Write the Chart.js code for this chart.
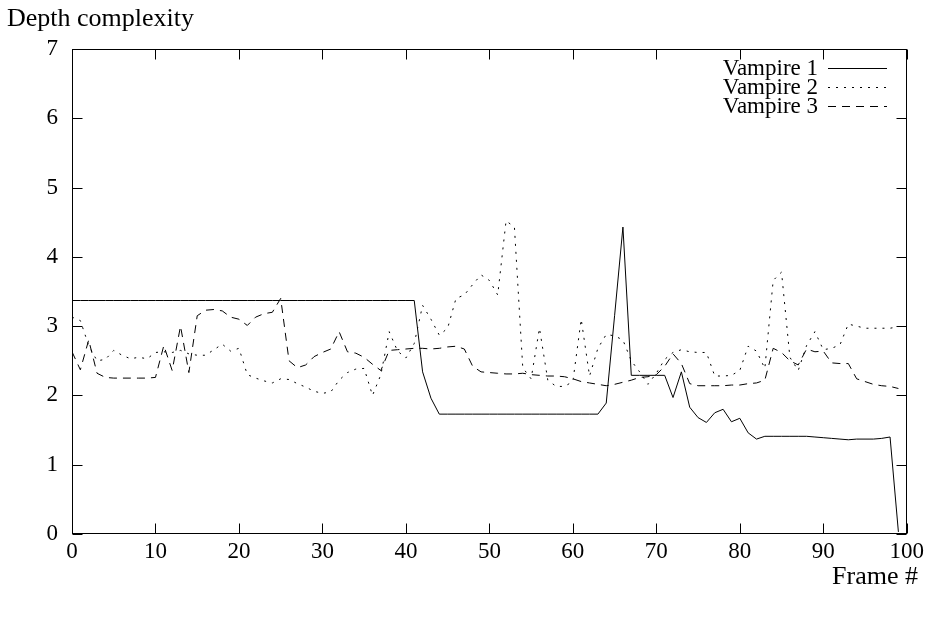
<!DOCTYPE html>
<html><head><meta charset="utf-8">
<script src="https://cdn.jsdelivr.net/npm/chart.js@4"></script>
<style>html,body{margin:0;padding:0;background:#fff}</style>
</head><body>
<canvas id="c" width="928" height="619"></canvas>
<script>
const frames = [0,1,2,3,4,5,6,7,8,9,10,11,12,13,14,15,16,17,18,19,20,21,22,23,24,25,26,27,28,29,30,31,32,33,34,35,36,37,38,39,40,41,42,43,44,45,46,47,48,49,50,51,52,53,54,55,56,57,58,59,60,61,62,63,64,65,66,67,68,69,70,71,72,73,74,75,76,77,78,79,80,81,82,83,84,85,86,87,88,89,90,91,92,93,94,95,96,97,98,99];

const vampire1 = [3.37,3.37,3.37,3.37,3.37,3.37,3.37,3.37,3.37,3.37,3.37,3.37,3.37,3.37,3.37,3.37,3.37,3.37,3.37,3.37,3.37,3.37,3.37,3.37,3.37,3.37,3.37,3.37,3.37,3.37,3.37,3.37,3.37,3.37,3.37,3.37,3.37,3.37,3.37,3.37,3.37,3.37,
2.34,1.96,
1.73,1.73,1.73,1.73,1.73,1.73,1.73,1.73,1.73,1.73,1.73,1.73,1.73,1.73,1.73,1.73,1.73,1.73,1.73,1.73,
1.89,3.15,4.43,
2.29,2.29,2.29,2.29,2.29,
1.97,2.34,1.83,1.68,1.61,1.75,1.80,1.62,1.67,1.46,1.37,1.41,1.41,1.41,1.41,1.41,1.41,1.40,1.39,1.38,1.37,1.36,1.37,1.37,1.37,1.38,1.40,0.03];

const vampire2 = [3.13,3.08,2.72,2.50,2.52,2.65,2.58,2.53,2.55,2.53,
2.62,2.63,2.62,2.65,2.60,2.58,2.58,2.66,2.74,2.64,
2.68,2.30,2.25,2.21,2.18,2.24,2.23,2.17,2.12,2.06,
2.03,2.05,2.22,2.33,2.38,2.39,2.00,2.30,2.92,2.64,
2.54,2.75,3.30,3.10,2.87,2.97,3.40,3.45,3.60,3.74,
3.66,3.45,4.52,4.43,2.40,2.24,2.97,2.22,2.13,2.13,
2.20,3.10,2.28,2.68,2.88,2.86,2.80,2.50,2.34,2.16,
2.32,2.52,2.62,2.66,2.63,2.62,2.62,2.28,2.28,2.29,
2.36,2.71,2.64,2.39,3.66,3.78,2.55,2.36,2.72,2.92,
2.66,2.68,2.73,3.03,3.00,2.97,2.97,2.97,2.97,2.99];

const vampire3 = [2.63,2.37,2.80,2.32,2.26,2.25,2.25,2.25,2.25,2.25,
2.26,2.72,2.36,3.00,2.33,3.15,3.23,3.24,3.22,3.13,
3.10,3.01,3.13,3.18,3.20,3.40,2.50,2.40,2.44,2.56,
2.62,2.67,2.92,2.63,2.61,2.55,2.45,2.36,2.65,2.66,
2.67,2.68,2.68,2.67,2.68,2.70,2.71,2.67,2.42,2.34,
2.33,2.32,2.31,2.31,2.32,2.30,2.29,2.28,2.28,2.27,
2.24,2.20,2.18,2.16,2.14,2.16,2.19,2.22,2.26,2.27,
2.30,2.42,2.60,2.46,2.17,2.14,2.14,2.14,2.14,2.15,
2.15,2.17,2.18,2.22,2.68,2.62,2.50,2.44,2.67,2.63,
2.64,2.47,2.46,2.46,2.24,2.20,2.16,2.14,2.13,2.10];

const seriesNames = ['Vampire 1','Vampire 2','Vampire 3'];
const xTitle = 'Frame #';
const yTitle = 'Depth complexity';

const FONT = '"Liberation Serif", "Times New Roman", serif';
const FS = 23;
const TFS = 26;
const dashes = [[], [2,6], [8,6]];

function pts(vals){ return frames.map((f,i)=>({x:f,y:vals[i]})); }

const framePlugin = {
  id:'framePlugin',
  afterDraw(chart){
    const {ctx, chartArea:a, scales} = chart;
    ctx.save();
    ctx.strokeStyle='#000'; ctx.lineWidth=1; ctx.setLineDash([]);
    const L=Math.round(a.left)+0.5, R=Math.round(a.right)-0.5, T=Math.round(a.top)+0.5, B=Math.round(a.bottom)-0.5;
    ctx.strokeRect(L,T,R-L,B-T);
    const tl=10;
    ctx.beginPath();
    scales.y.ticks.forEach(t=>{
      const y=Math.round(scales.y.getPixelForValue(t.value))+0.5;
      ctx.moveTo(L,y); ctx.lineTo(L+tl,y);
      ctx.moveTo(R,y); ctx.lineTo(R-tl,y);
    });
    scales.x.ticks.forEach(t=>{
      const x=Math.round(scales.x.getPixelForValue(t.value))+0.5;
      ctx.moveTo(x,B); ctx.lineTo(x,B-tl);
      ctx.moveTo(x,T); ctx.lineTo(x,T+tl);
    });
    ctx.stroke();
    ctx.fillStyle='#000';
    ctx.textBaseline='middle';
    ctx.font = TFS+'px '+FONT;
    ctx.textAlign='left';
    ctx.fillText(yTitle, 7, 19);
    ctx.textAlign='right';
    ctx.fillText(xTitle, 918, 577);
    ctx.font = FS+'px '+FONT;
    const rows=[69,88,107];
    chart.data.datasets.forEach((ds,i)=>{
      ctx.textAlign='right';
      ctx.fillText(ds.label, 818, rows[i]);
      ctx.beginPath();
      ctx.setLineDash(ds.borderDash||[]);
      ctx.moveTo(828, Math.round(rows[i]-1)+0.5);
      ctx.lineTo(887, Math.round(rows[i]-1)+0.5);
      ctx.stroke();
    });
    ctx.restore();
  }
};

const mk = (i, vals) => ({
  label: seriesNames[i], data: pts(vals), borderColor:'#000', borderWidth:1,
  borderDash: dashes[i], pointRadius:0, tension:0, fill:false
});

new Chart(document.getElementById('c'), {
  type:'line',
  data:{ datasets:[ mk(0,vampire1), mk(1,vampire2), mk(2,vampire3) ] },
  options:{
    responsive:false, animation:false, devicePixelRatio:1,
    layout:{ padding:{ left:0, top:49, right:21, bottom:0 } },
    plugins:{ legend:{display:false}, tooltip:{enabled:false} },
    scales:{
      x:{ type:'linear', min:0, max:100,
          ticks:{ stepSize:10, color:'#000', font:{family:FONT,size:FS}, padding:4, maxRotation:0 },
          grid:{ display:false, drawTicks:false },
          border:{ display:false },
          afterFit(s){ s.height = 85; } },
      y:{ min:0, max:7,
          ticks:{ stepSize:1, color:'#000', font:{family:FONT,size:FS}, padding:14 },
          grid:{ display:false, drawTicks:false },
          border:{ display:false },
          afterFit(s){ s.width = 72; } }
    }
  },
  plugins:[framePlugin]
});
</script>
</body></html>
